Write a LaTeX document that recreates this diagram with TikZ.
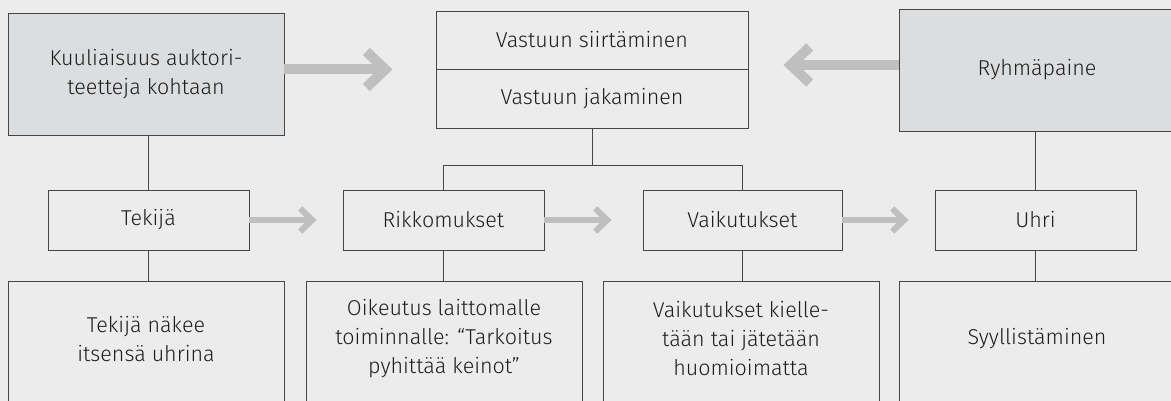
\documentclass[tikz,border=0pt]{standalone}
\usepackage{fontspec}
\setmainfont{Fira Sans Light}
\usetikzlibrary{arrows.meta}
\definecolor{bg}{HTML}{ECECEC}
\definecolor{boxgray}{HTML}{DCDDDF}
\definecolor{arrgray}{HTML}{BFBFBF}
\definecolor{edge}{HTML}{454545}
\definecolor{ink}{HTML}{1E1E1E}
\tikzset{
  box/.style={draw=edge, line width=0.9pt, inner sep=0pt, align=center, text=ink, font=\fontsize{21.5}{29}\selectfont},
  graybox/.style={box, fill=boxgray},
  txt/.style={inner sep=0pt, align=center, text=ink, font=\fontsize{21.5}{29}\selectfont},
  conn/.style={draw=edge, line width=0.9pt},
  bigarr/.style={draw=arrgray, line width=10pt, -{Straight Barb[length=19pt,width=36pt]}},
  smallarr/.style={draw=arrgray, line width=6pt, -{Straight Barb[length=12pt,width=23pt]}}
}
\begin{document}
\begin{tikzpicture}[x=1pt,y=-1pt]
\useasboundingbox (0,0) rectangle (1171,401);
\fill[bg] (0,0) rectangle (1171,401);
\clip (0,0) rectangle (1171,401);
% row 1
\node[graybox, minimum width=276pt, minimum height=122pt] (k) at (146,74) {Kuuliaisuus auktori-\\teetteja kohtaan};
\node[box, minimum width=312pt, minimum height=58pt] (vs) at (592,40) {Vastuun siirtäminen};
\node[box, minimum width=312pt, minimum height=59pt] (vj) at (592,98.5) {Vastuun jakaminen};
\node[graybox, minimum width=276pt, minimum height=122pt] (r) at (1037,70) {Ryhmäpaine};
% row 2
\node[box, minimum width=201pt, minimum height=60pt] (t) at (148.5,220) {Tekijä};
\node[box, minimum width=201pt, minimum height=60pt] (rk) at (443.5,220) {Rikkomukset};
\node[box, minimum width=199pt, minimum height=60pt] (v) at (742.5,220) {Vaikutukset};
\node[box, minimum width=201pt, minimum height=60pt] (u) at (1035.5,220) {Uhri};
% row 3
\node[box, minimum width=276pt, minimum height=130pt] (a) at (146,346) {};
\node[box, minimum width=276pt, minimum height=130pt] (b) at (444,346) {};
\node[box, minimum width=276pt, minimum height=130pt] (c) at (741,346) {};
\node[box, minimum width=276pt, minimum height=130pt] (d) at (1037,346) {};
\node[txt] (at) at ([yshift=-58pt]a.north) {Tekijä näkee\\itsensä uhrina};
\node[txt] (bt) at ([yshift=-58pt]b.north) {Oikeutus laittomalle\\toiminnalle: “Tarkoitus\\pyhittää keinot”};
\node[txt] (ct) at ([yshift=-58pt]c.north) {Vaikutukset kielle-\\tään tai jätetään\\huomioimatta};
\node[txt] (dt) at ([yshift=-58pt]d.north) {Syyllistäminen};
% connectors
\coordinate (br) at (592,165);
\draw[conn] (t.north |- k.south) -- (t.north);
\draw[conn] (t.south) -- (t.south |- a.north);
\draw[conn] (vj.south) -- (vj.south |- br);
\draw[conn] (rk.north) -- (rk.north |- br) -- (v.north |- br) -- (v.north);
\draw[conn] (rk.south) -- (rk.south |- b.north);
\draw[conn] (v.south) -- (v.south |- c.north);
\draw[conn] (u.north |- r.south) -- (u.north);
\draw[conn] (u.south) -- (u.south |- d.north);
% arrows
\draw[bigarr, shorten >=43pt] (k.east |- vs.south) -- (vs.south west);
\draw[bigarr, shorten >=35pt] ([yshift=5pt]r.west) -- ([yshift=5pt]r.west -| vs.east);
\draw[smallarr, shorten >=26pt] (t.east) -- (rk.west);
\draw[smallarr, shorten >=31pt] (rk.east) -- (v.west);
\draw[smallarr, shorten >=26pt] (v.east) -- (u.west);
\end{tikzpicture}
\end{document}
